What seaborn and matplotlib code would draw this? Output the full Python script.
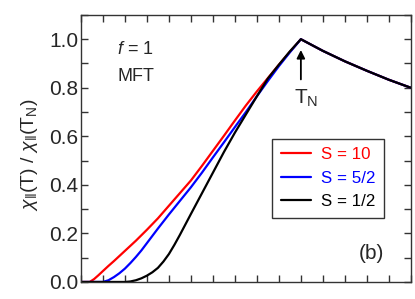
import numpy as np
import pandas as pd
import matplotlib
matplotlib.use("Agg")
import matplotlib.pyplot as plt
import seaborn as sns
from matplotlib.ticker import MultipleLocator, NullFormatter, FormatStrFormatter

# Data (T/T_N vs chi_par(T)/chi_par(T_N))
t_s10 = [0.0, 0.04, 0.06, 0.08, 0.1, 0.125, 0.15, 0.2, 0.25, 0.3, 0.35, 0.4, 0.45, 0.5,
         0.55, 0.6, 0.65, 0.7, 0.75, 0.8, 0.85, 0.9, 0.95, 1.0]
y_s10 = [0.0, 0.0, 0.012, 0.028, 0.045, 0.066, 0.086, 0.128, 0.17, 0.215, 0.262, 0.314,
         0.366, 0.418, 0.478, 0.54, 0.602, 0.665, 0.727, 0.785, 0.84, 0.895, 0.948, 1.0]

t_s52 = [0.0, 0.1, 0.125, 0.15, 0.175, 0.2, 0.225, 0.25, 0.275, 0.3, 0.35, 0.4, 0.45,
         0.5, 0.55, 0.6, 0.65, 0.7, 0.75, 0.8, 0.85, 0.9, 0.95, 1.0]
y_s52 = [0.0, 0.0, 0.007, 0.02, 0.036, 0.055, 0.078, 0.103, 0.13, 0.16, 0.22, 0.278,
         0.334, 0.39, 0.45, 0.513, 0.575, 0.638, 0.70, 0.765, 0.828, 0.889, 0.946, 1.0]

t_s12 = [0.0, 0.2, 0.225, 0.25, 0.275, 0.3, 0.325, 0.35, 0.375, 0.4, 0.425, 0.45, 0.5,
         0.55, 0.6, 0.65, 0.7, 0.75, 0.8, 0.85, 0.9, 0.95, 1.0]
y_s12 = [0.0, 0.0, 0.002, 0.007, 0.015, 0.026, 0.04, 0.058, 0.084, 0.115, 0.153, 0.194,
         0.28, 0.365, 0.45, 0.535, 0.615, 0.69, 0.765, 0.838, 0.895, 0.95, 1.0]

# Paramagnetic region (common to all S)
t_para = [1.0, 1.1, 1.2, 1.3, 1.4, 1.5]
y_para = [1.0, 0.952, 0.909, 0.870, 0.833, 0.80]

labels = ["S = 10", "S = 5/2", "S = 1/2"]
colors = ["#ff0000", "#0000ff", "#000000"]

rows = []
for lab, ts, ys in zip(labels, [t_s10, t_s52, t_s12], [y_s10, y_s52, y_s12]):
    for t, y in zip(ts + t_para[1:], ys + y_para[1:]):
        rows.append((lab, t, y))
df = pd.DataFrame(rows, columns=["S", "t", "chi"])

sns.set_style("ticks")
plt.rcParams['font.family'] = ['Liberation Sans', 'DejaVu Sans']
plt.rcParams['mathtext.fontset'] = 'custom'
plt.rcParams['mathtext.rm'] = 'Liberation Sans'
plt.rcParams['mathtext.it'] = 'Liberation Sans:italic'

fig = plt.figure(figsize=(4.15, 2.99), dpi=100)
ax = fig.add_axes([0.195, 0.057, 0.795, 0.893])

sns.lineplot(data=df, x="t", y="chi", hue="S", hue_order=labels,
             palette=dict(zip(labels, colors)), linewidth=1.6, ax=ax,
             sort=False, estimator=None)

ax.set_xlim(0, 1.5)
ax.set_ylim(0, 1.1)
ax.xaxis.set_major_locator(MultipleLocator(0.1))
ax.xaxis.set_major_formatter(NullFormatter())
ax.yaxis.set_major_locator(MultipleLocator(0.2))
ax.yaxis.set_minor_locator(MultipleLocator(0.1))
ax.yaxis.set_major_formatter(FormatStrFormatter('%.1f'))
ax.tick_params(axis='both', which='both', direction='in', top=True, right=True,
               length=5, width=1, color='#333333', labelsize=15, pad=2)
for sp in ax.spines.values():
    sp.set_color('#333333')
    sp.set_linewidth(1)

ax.set_xlabel("")
ax.set_ylabel(r"$\chi_{\Vert}$(T) / $\chi_{\Vert}$(T$_{\rm N}$)", fontsize=14)
ax.yaxis.set_label_coords(-0.125, 0.475)

ax.text(0.165, 0.959, r"$f$ = 1", fontsize=13, ha='left', va='center')
ax.text(0.165, 0.848, "MFT", fontsize=13, ha='left', va='center')
ax.text(1.265, 0.119, "(b)", fontsize=15, ha='left', va='center')

ax.annotate("", xy=(1.0, 0.967), xytext=(1.0, 0.823),
            arrowprops=dict(arrowstyle='-|>', color='black', lw=1.3,
                            mutation_scale=12))
ax.text(0.968, 0.755, r"T$_{\rm N}$", fontsize=15, ha='left', va='center')

leg = ax.legend(loc='center', bbox_to_anchor=(0.75, 0.388), frameon=True,
                fontsize=12.2, handlelength=1.8, handletextpad=0.6,
                borderpad=0.5, labelspacing=0.5, fancybox=False)
leg.get_frame().set_edgecolor('black')
leg.get_frame().set_linewidth(1)
for txt, c in zip(leg.get_texts(), colors):
    txt.set_color(c)

fig.savefig("out.png", dpi=100)
